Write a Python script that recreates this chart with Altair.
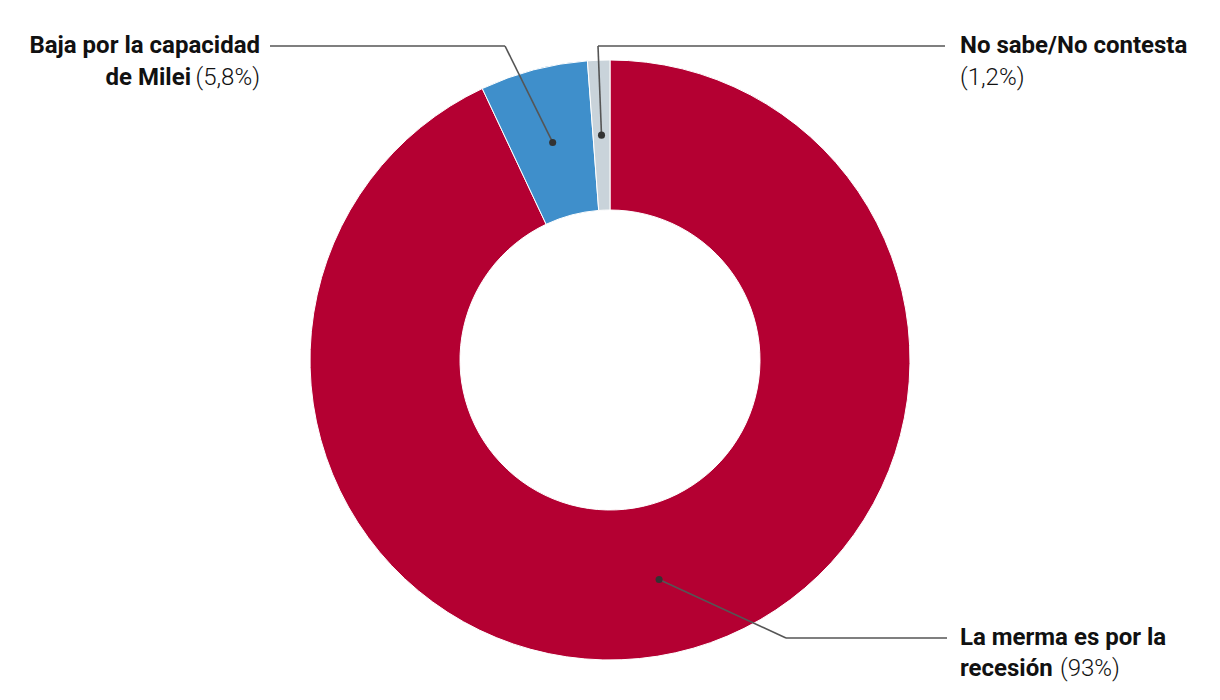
import altair as alt
import pandas as pd

# ---- data ----
categories = ["La merma es por la recesión", "Baja por la capacidad de Milei", "No sabe/No contesta"]
values = [93.0, 5.8, 1.2]
colors = ["#B40032", "#3F8FCB", "#C9D3DA"]
bold_line1 = ["La merma es por la", "Baja por la capacidad", "No sabe/No contesta"]
bold_line2 = ["recesión", "de Milei", ""]
pct_labels = ["(93%)", "(5,8%)", "(1,2%)"]

# ---- layout (chart pixel coordinates, annotations only) ----
W, H = 1204, 684
CX, CY = 602, 352
R_IN, R_OUT, R_DOT = 150, 300, 225
elbow_x = [778, 497, 590]
elbow_y = [630, 38, 38]
end_x = [939, 262, 937]
text_align = ["left", "right", "left"]
line1_x = [952, 252, 952]
line1_y = [630, 38, 38]
line2_y = [661, 70, 70]
bold2_x = [952, 183, 952]
pct_x = [1052, 252, 952]

df = pd.DataFrame({
    "cat": categories,
    "value": values,
    "order": list(range(len(categories))),
    "bold1": bold_line1,
    "bold2": bold_line2,
    "pct": pct_labels,
    "elbow_x": elbow_x,
    "elbow_y": elbow_y,
    "end_x": end_x,
    "line1_x": line1_x,
    "line1_y": line1_y,
    "line2_y": line2_y,
    "bold2_x": bold2_x,
    "pct_x": pct_x,
})

FONT = "Roboto"
FS = 24
TXT = "#111111"
LINE = "#555555"

arc = alt.Chart(df).mark_arc(
    innerRadius=R_IN, outerRadius=R_OUT, stroke="white", strokeWidth=1
).encode(
    theta=alt.Theta("value:Q", stack=True),
    color=alt.Color("cat:N", scale=alt.Scale(domain=categories, range=colors), legend=None),
    order=alt.Order("order:Q"),
    x=alt.value(CX),
    y=alt.value(CY),
)

base = alt.Chart(df).transform_window(
    cum="sum(value)", sort=[alt.SortField("order")], frame=[None, 0]
).transform_calculate(
    mid="2*PI*(datum.cum - datum.value/2)/100",
).transform_calculate(
    dot_x=f"{CX} + {R_DOT}*sin(datum.mid)",
    dot_y=f"{CY} - {R_DOT}*cos(datum.mid)",
)

leader1 = base.mark_rule(color=LINE, strokeWidth=1.6).encode(
    x=alt.X("dot_x:Q", scale=None, axis=None),
    y=alt.Y("dot_y:Q", scale=None, axis=None),
    x2="elbow_x:Q",
    y2="elbow_y:Q",
)
leader2 = alt.Chart(df).mark_rule(color=LINE, strokeWidth=1.6).encode(
    x=alt.X("elbow_x:Q", scale=None, axis=None),
    y=alt.Y("elbow_y:Q", scale=None, axis=None),
    x2="end_x:Q",
    y2="elbow_y:Q",
)
dots = base.mark_circle(size=50, color="#333333", opacity=1).encode(
    x=alt.X("dot_x:Q", scale=None, axis=None),
    y=alt.Y("dot_y:Q", scale=None, axis=None),
)

layers = [arc, leader1, leader2, dots]
for i in range(len(categories)):
    sub = df.iloc[[i]]
    al = text_align[i]
    layers.append(alt.Chart(sub).mark_text(
        align=al, baseline="middle", font=FONT, fontSize=FS, fontWeight="bold", color=TXT
    ).encode(
        x=alt.X("line1_x:Q", scale=None, axis=None),
        y=alt.Y("line1_y:Q", scale=None, axis=None),
        text="bold1:N",
    ))
    if bold_line2[i]:
        layers.append(alt.Chart(sub).mark_text(
            align=al, baseline="middle", font=FONT, fontSize=FS, fontWeight="bold", color=TXT
        ).encode(
            x=alt.X("bold2_x:Q", scale=None, axis=None),
            y=alt.Y("line2_y:Q", scale=None, axis=None),
            text="bold2:N",
        ))
    layers.append(alt.Chart(sub).mark_text(
        align=al, baseline="middle", font=FONT, fontSize=FS, fontWeight=300, color=TXT
    ).encode(
        x=alt.X("pct_x:Q", scale=None, axis=None),
        y=alt.Y("line2_y:Q", scale=None, axis=None),
        text="pct:N",
    ))

chart = alt.layer(*layers).properties(
    width=W, height=H, padding=0, autosize=alt.AutoSizeParams(type="none"), background="white"
).configure_view(stroke=None)

chart.save("out.html", embed_options={"renderer": "svg", "actions": False})
